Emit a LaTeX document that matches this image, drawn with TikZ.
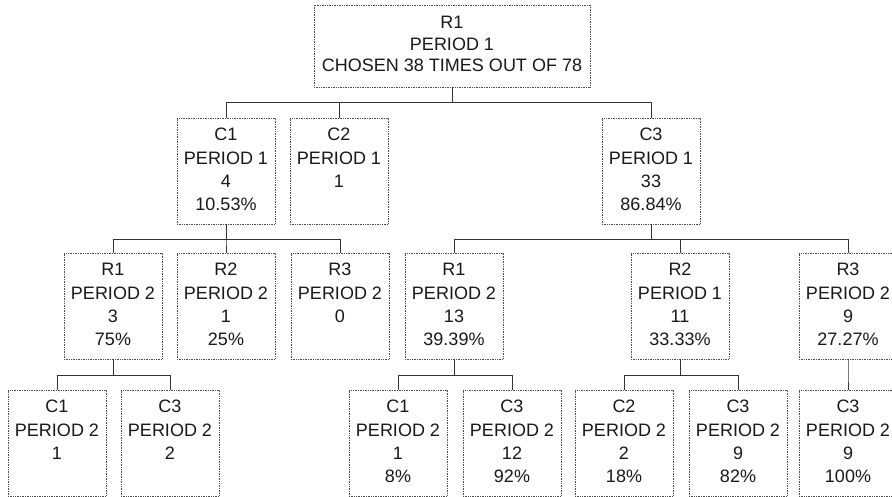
\documentclass[tikz,border=0pt]{standalone}
\usepackage{fontspec}
\setmainfont{Liberation Sans}
\begin{document}
\begin{tikzpicture}[x=1pt,y=-1pt,
  box/.style={draw=black!70, densely dotted, line width=0.7pt, minimum width=98pt,
    minimum height=106pt, inner sep=0pt, align=center,
    font=\fontsize{18}{23.3}\selectfont, text=black!90},
  topbox/.style={box, minimum width=276pt, minimum height=82pt,
    font=\fontsize{18}{21.5}\selectfont},
  link/.style={draw=black!80, line width=0.8pt}]
\useasboundingbox (0,0) rectangle (892,497);
\clip (0,0) rectangle (892,497);
\fill[white] (0,0) rectangle (892,497);

% level 1
\node[topbox] (top) at (452,46) {\strut R1\\PERIOD 1\\CHOSEN 38 TIMES OUT OF 78\strut};

% level 2
\node[box] (c1) at (226,171) {\strut C1\\PERIOD 1\\4\\10.53\%\strut};
\node[box] (c2) at (339,171) {\strut C2\\PERIOD 1\\1\\\strut};
\node[box] (c3) at (651,171) {\strut C3\\PERIOD 1\\33\\86.84\%\strut};

% level 3
\node[box] (r1) at (113,306) {\strut R1\\PERIOD 2\\3\\75\%\strut};
\node[box] (r2) at (226,306) {\strut R2\\PERIOD 2\\1\\25\%\strut};
\node[box] (r3) at (340,306) {\strut R3\\PERIOD 2\\0\\\strut};
\node[box] (r1b) at (454,306) {\strut R1\\PERIOD 2\\13\\39.39\%\strut};
\node[box] (r2b) at (680,306) {\strut R2\\PERIOD 1\\11\\33.33\%\strut};
\node[box] (r3b) at (848,306) {\strut R3\\PERIOD 2\\9\\27.27\%\strut};

% level 4
\node[box] (c1a) at (57,443) {\strut C1\\PERIOD 2\\1\\\strut};
\node[box] (c3a) at (170,443) {\strut C3\\PERIOD 2\\2\\\strut};
\node[box] (c1b) at (398,443) {\strut C1\\PERIOD 2\\1\\8\%\strut};
\node[box] (c3b) at (512,443) {\strut C3\\PERIOD 2\\12\\92\%\strut};
\node[box] (c2c) at (624,443) {\strut C2\\PERIOD 2\\2\\18\%\strut};
\node[box] (c3c) at (738,443) {\strut C3\\PERIOD 2\\9\\82\%\strut};
\node[box] (c3d) at (848,443) {\strut C3\\PERIOD 2\\9\\100\%\strut};

% bar levels
\coordinate (b1) at (0,102);
\coordinate (b2) at (0,239);
\coordinate (b3) at (0,375);

\foreach \p/\c/\b in {top/c1/b1, top/c2/b1, top/c3/b1,
    c1/r1/b2, c1/r2/b2, c1/r3/b2,
    c3/r1b/b2, c3/r2b/b2, c3/r3b/b2,
    r1/c1a/b3, r1/c3a/b3,
    r1b/c1b/b3, r1b/c3b/b3,
    r2b/c2c/b3, r2b/c3c/b3,
    r3b/c3d/b3}
  \draw[link] (\p.south) -- (\p.south |- \b) -| (\c.north);
\end{tikzpicture}
\end{document}
